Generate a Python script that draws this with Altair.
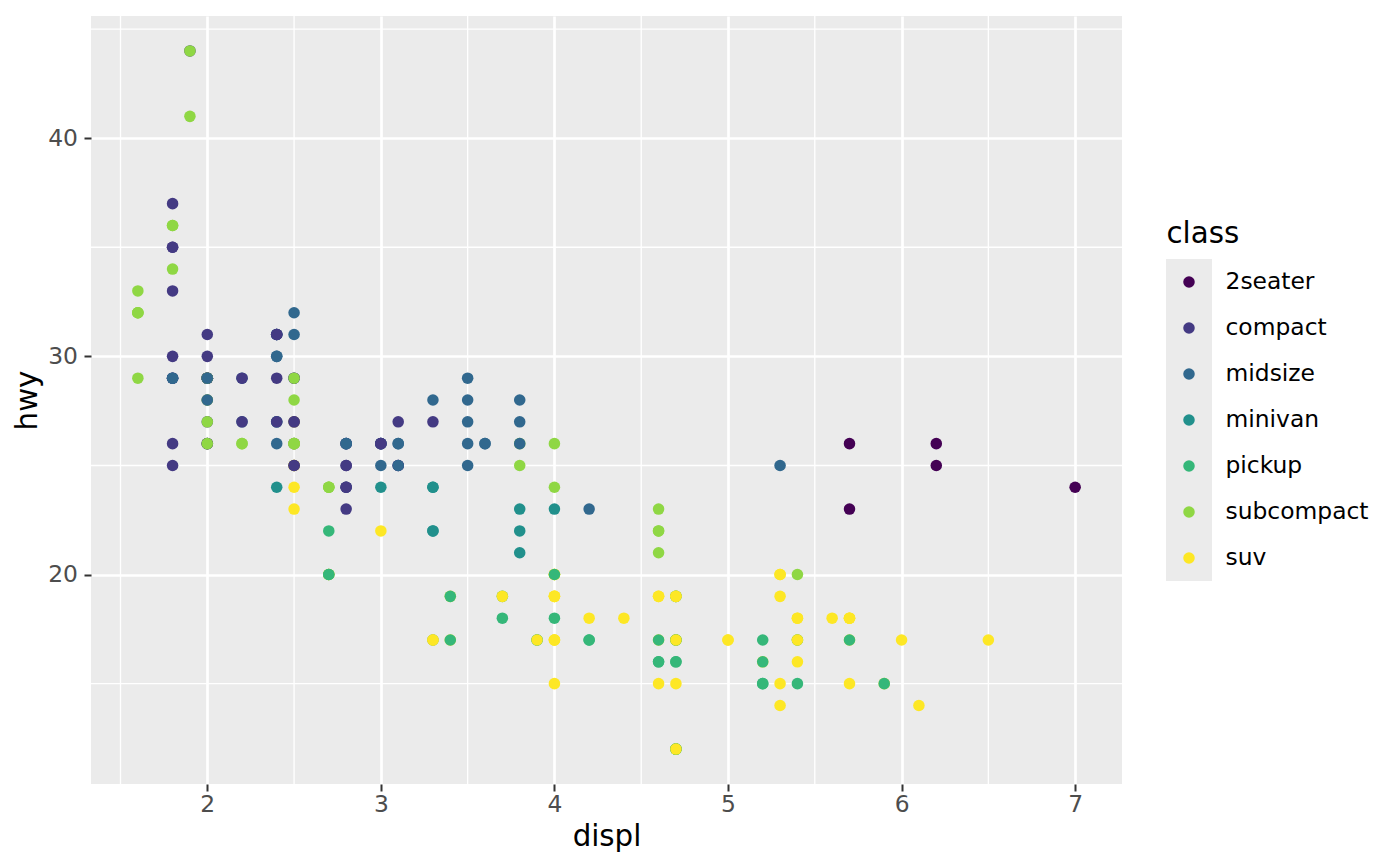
import altair as alt
import pandas as pd

# mpg: engine displacement vs highway mileage, one entry per car (data order kept)
displ = [
    1.8, 1.8, 2.0, 2.0, 2.8, 2.8, 3.1,
    1.8, 1.8, 2.0, 2.0, 2.8, 2.8, 3.1, 3.1,
    2.8, 3.1, 4.2,
    5.3, 5.3, 5.3, 5.7, 6.0,
    5.7, 5.7, 6.2, 6.2, 7.0,
    5.3, 5.3, 5.7, 6.5,
    2.4, 2.4, 3.1, 3.5, 3.6,
    2.4, 3.0, 3.3, 3.3, 3.3, 3.3, 3.3, 3.8, 3.8, 3.8, 4.0,
    3.7, 3.7, 3.9, 3.9, 4.7, 4.7, 4.7, 5.2, 5.2,
    3.9, 4.7, 4.7, 4.7, 5.2, 5.7, 5.9,
    4.7, 4.7, 4.7, 4.7, 4.7, 4.7, 5.2, 5.2, 5.7, 5.9,
    4.6, 5.4, 5.4,
    4.0, 4.0, 4.0, 4.0, 4.6, 5.0,
    4.2, 4.2, 4.6, 4.6, 4.6, 5.4, 5.4,
    3.8, 3.8, 4.0, 4.0, 4.6, 4.6, 4.6, 4.6, 5.4,
    1.6, 1.6, 1.6, 1.6, 1.6, 1.8, 1.8, 1.8, 2.0,
    2.4, 2.4, 2.4, 2.4, 2.5, 2.5, 3.3,
    2.0, 2.0, 2.0, 2.0, 2.7, 2.7, 2.7,
    3.0, 3.7, 4.0, 4.7, 4.7, 4.7, 5.7, 6.1,
    4.0, 4.2, 4.4, 4.6,
    5.4, 5.4, 5.4,
    4.0, 4.0, 4.6, 5.0,
    2.4, 2.4, 2.5, 2.5, 3.5, 3.5,
    3.0, 3.0, 3.5,
    3.3, 3.3, 4.0, 5.6,
    3.1, 3.8, 3.8, 3.8, 5.3,
    2.5, 2.5, 2.5, 2.5, 2.5, 2.5,
    2.2, 2.2, 2.5, 2.5, 2.5, 2.5, 2.5, 2.5,
    2.7, 2.7, 3.4, 3.4, 4.0, 4.7,
    2.2, 2.2, 2.4, 2.4, 3.0, 3.0, 3.5,
    2.2, 2.2, 2.4, 2.4, 3.0, 3.0, 3.3,
    1.8, 1.8, 1.8, 1.8, 1.8,
    4.7, 5.7,
    2.7, 2.7, 2.7, 3.4, 3.4, 4.0, 4.0,
    2.0, 2.0, 2.0, 2.0, 2.8,
    1.9, 2.0, 2.0, 2.0, 2.0, 2.5, 2.5, 2.8, 2.8,
    1.9, 1.9, 2.0, 2.0, 2.5, 2.5,
    1.8, 1.8, 2.0, 2.0, 2.8, 2.8, 3.6,
]
hwy = [
    29, 29, 31, 30, 26, 26, 27,
    26, 25, 28, 27, 25, 25, 25, 25,
    24, 25, 23,
    20, 15, 20, 17, 17,
    26, 23, 26, 25, 24,
    19, 14, 15, 17,
    27, 30, 26, 29, 26,
    24, 24, 22, 22, 24, 24, 17, 22, 21, 23, 23,
    19, 18, 17, 17, 19, 19, 12, 17, 15,
    17, 17, 12, 17, 16, 18, 15,
    16, 12, 17, 17, 16, 12, 15, 16, 17, 15,
    17, 17, 18,
    17, 19, 17, 19, 19, 17,
    17, 17, 16, 16, 17, 15, 17,
    26, 25, 26, 24, 21, 22, 23, 22, 20,
    33, 32, 32, 29, 32, 34, 36, 36, 29,
    26, 27, 30, 31, 26, 26, 28,
    26, 29, 28, 27, 24, 24, 24,
    22, 19, 20, 17, 12, 19, 18, 14,
    15, 18, 18, 15,
    17, 16, 18,
    17, 19, 19, 17,
    29, 27, 31, 32, 27, 26,
    26, 25, 25,
    17, 17, 20, 18,
    26, 26, 27, 28, 25,
    25, 24, 27, 25, 26, 23,
    26, 26, 26, 26, 25, 27, 25, 27,
    20, 20, 19, 17, 20, 19,
    29, 27, 31, 31, 26, 26, 28,
    27, 29, 31, 31, 26, 26, 27,
    30, 33, 35, 37, 35,
    15, 18,
    20, 20, 22, 17, 19, 18, 20,
    29, 26, 29, 29, 24,
    44, 29, 26, 29, 29, 29, 29, 23, 24,
    44, 41, 29, 26, 28, 29,
    29, 29, 28, 29, 26, 26, 26,
]
cls = (
    ["compact"] * 15 + ["midsize"] * 3 + ["suv"] * 5 + ["2seater"] * 5
    + ["suv"] * 4 + ["midsize"] * 5 + ["minivan"] * 11 + ["pickup"] * 9
    + ["suv"] * 7 + ["pickup"] * 10 + ["suv"] * 9 + ["pickup"] * 7
    + ["subcompact"] * 18 + ["midsize"] * 7 + ["subcompact"] * 7
    + ["suv"] * 19 + ["compact"] * 2 + ["midsize"] * 7 + ["suv"] * 4
    + ["midsize"] * 5 + ["suv"] * 6 + ["subcompact"] * 4 + ["compact"] * 4
    + ["suv"] * 6 + ["midsize"] * 7 + ["compact"] * 12 + ["suv"] * 2
    + ["pickup"] * 7 + ["compact"] * 14 + ["subcompact"] * 6 + ["midsize"] * 7
)

classes = ["2seater", "compact", "midsize", "minivan", "pickup", "subcompact", "suv"]
viridis = ["#440154", "#443A83", "#31688E", "#21908C", "#35B779", "#8FD744", "#FDE725"]
x_breaks = [2, 3, 4, 5, 6, 7]
y_breaks = [20, 30, 40]
x_minor = [1.5, 2.5, 3.5, 4.5, 5.5, 6.5]
y_minor = [15, 25, 35, 45]

mpg = pd.DataFrame({"displ": displ, "hwy": hwy, "class": cls})

x_scale = alt.Scale(domain=[1.33, 7.27], nice=False, zero=False)
y_scale = alt.Scale(domain=[10.4, 45.6], nice=False, zero=False)
color_scale = alt.Scale(domain=classes, range=viridis)

axis_style = dict(
    grid=True, gridColor="white", gridWidth=2.7, domain=False,
    tickColor="#333333", tickWidth=2, tickSize=7,
    labelColor="#4D4D4D", labelFontSize=23.4,
    titleFontSize=29.3, titleFontWeight="normal", titleColor="black",
)
x_axis = alt.Axis(values=x_breaks, format="d", labelPadding=2, titlePadding=7, **axis_style)
y_axis = alt.Axis(values=y_breaks, format="d", labelPadding=6.5, titlePadding=5, **axis_style)

minor_v = alt.Chart(pd.DataFrame({"displ": x_minor})).mark_rule(
    color="white", strokeWidth=1.35
).encode(x=alt.X("displ:Q", scale=x_scale, axis=x_axis, title="displ"))

minor_h = alt.Chart(pd.DataFrame({"hwy": y_minor})).mark_rule(
    color="white", strokeWidth=1.35
).encode(y=alt.Y("hwy:Q", scale=y_scale, axis=y_axis, title="hwy"))

points = alt.Chart(mpg).mark_circle(size=133, opacity=1, strokeWidth=0).encode(
    x=alt.X("displ:Q", scale=x_scale, axis=x_axis, title="displ"),
    y=alt.Y("hwy:Q", scale=y_scale, axis=y_axis, title="hwy"),
    color=alt.Color("class:N", scale=color_scale, legend=None),
)

main = alt.layer(minor_v, minor_h, points).properties(
    width=1031, height=768,
    view=alt.ViewBackground(fill="#EBEBEB", strokeWidth=0),
)

# hand-built legend: grey key column, coloured dots, labels as a right axis
key_y = alt.Y(
    "class:N",
    scale=alt.Scale(domain=classes, range=[243, 565], paddingInner=0, paddingOuter=0),
    axis=alt.Axis(
        orient="right", ticks=False, domain=False, grid=False,
        labelFontSize=23.4, labelColor="black", labelPadding=13,
        title="class", titleAngle=0, titleAlign="left", titleBaseline="alphabetic",
        titleX=-46, titleY=226.5, titleFontSize=29.3, titleFontWeight="normal",
        titleColor="black",
    ),
)
legend_df = pd.DataFrame({"class": classes})
keys = alt.Chart(legend_df).mark_rect(color="#EBEBEB").encode(y=key_y)
dots = alt.Chart(legend_df).mark_circle(size=133, opacity=1, strokeWidth=0).encode(
    y=key_y,
    color=alt.Color("class:N", scale=color_scale, legend=None),
)
legend = alt.layer(keys, dots).properties(width=46, height=768)

chart = alt.hconcat(main, legend, spacing=43).properties(
    padding={"left": 5, "top": 7, "right": 10, "bottom": 5},
    background="white",
).configure(font="DejaVu Sans").configure_view(strokeWidth=0)

chart.save("out.html", embed_options={"renderer": "svg", "actions": False})
